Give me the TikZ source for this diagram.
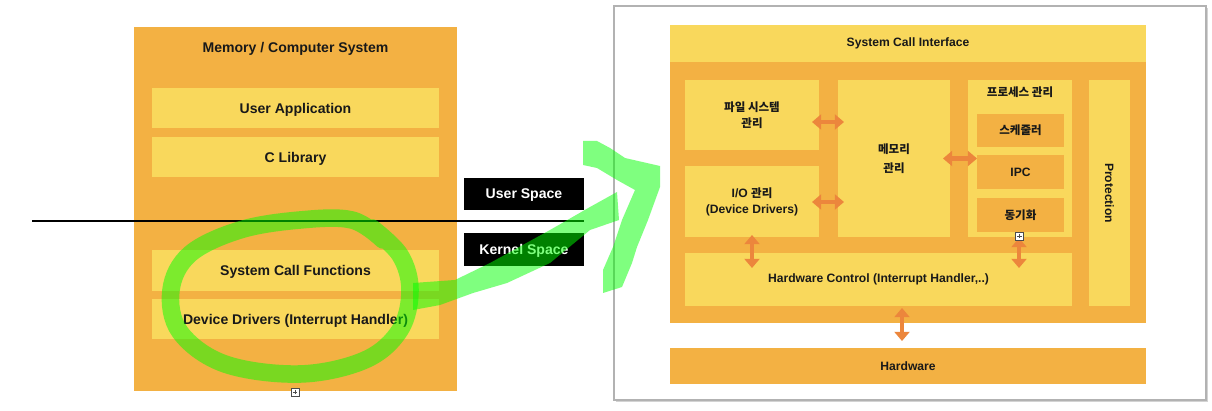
\documentclass[tikz,border=0pt]{standalone}
\usepackage{fontspec}
\setmainfont{Liberation Sans}
\newfontfamily\kr[Scale=0.95]{Noto Sans CJK KR}
\usetikzlibrary{arrows.meta,calc,shadows}
\definecolor{boxorange}{RGB}{243,177,67}
\definecolor{boxyellow}{RGB}{249,216,92}
\definecolor{arrorange}{RGB}{236,134,60}
\definecolor{marker}{RGB}{0,255,0}
\tikzset{
  wh/.style 2 args={minimum width=#1*0.02cm, minimum height=#2*0.02cm},
  plain/.style={inner sep=0pt, outer sep=0pt},
  obox/.style={plain, fill=boxorange},
  ybox/.style={plain, fill=boxyellow},
  ltext/.style={font=\fontsize{8}{10}\selectfont\bfseries, text=black!90, text depth=0pt},
  rtext/.style={font=\fontsize{6.9}{9}\selectfont\bfseries, text=black!90, align=center},
  tag/.style={plain, fill=black, text=white, font=\fontsize{8}{10}\selectfont\bfseries, text depth=0pt},
  dbl/.style={arrorange, line width=2.6pt,
    {Triangle[width=8.5pt,length=5.2pt]}-{Triangle[width=8.5pt,length=5.2pt]}},
  icon/.style={draw=black!70, fill=white, line width=0.4pt, minimum size=4.6pt, inner sep=0pt,
    path picture={\draw[black!70, line width=0.4pt]
      ([yshift=-0.9pt]path picture bounding box.north) -- ([yshift=0.9pt]path picture bounding box.south)
      ([xshift=0.9pt]path picture bounding box.west) -- ([xshift=-0.9pt]path picture bounding box.east);}},
  hand/.style={marker, opacity=0.5}
}

\begin{document}
\begin{tikzpicture}[x=0.02cm, y=-0.02cm]
  \useasboundingbox (0,0) rectangle (1212,411);

  % left: memory layout
  \node[obox, wh={323}{364}] (mcs) at (295.5,209) {};
  \node[ltext] (mcstitle) at (295.5,47) {Memory / Computer System};
  \node[ybox, ltext, wh={287}{40}] (ua) at (295.5,108) {User Application};
  \node[ybox, ltext, wh={287}{40}] (clib) at (295.5,157) {C Library};
  \node[ybox, ltext, wh={287}{41}] (scf) at (295.5,270.5) {System Call Functions};
  \node[ybox, ltext, wh={287}{40}] (dd) at (295.5,319) {Device Drivers (Interrupt Handler)};
  \node[icon] (icoL) at (295,392) {};

  \node[tag, wh={120}{32}] (us) at (524,194) {User Space};
  \node[tag, wh={120}{33}] (ks) at (524,249.5) {Kernel Space};

  % user / kernel border
  \coordinate (cut) at (32,221);
  \draw[black, line width=0.9pt] (cut) -- (cut -| ks.east);

  % right: kernel structure
  \node[plain, draw=black!30, fill=white, line width=0.6pt, wh={592}{394},
    drop shadow={opacity=0.35, shadow xshift=1.2pt, shadow yshift=-1.2pt}] (win) at (910,203) {};
  \node[ybox, rtext, wh={476}{37}] (sci) at (908,43.5) {System Call Interface};
  \node[obox, wh={476}{261}] (kern) at (908,192.5) {};
  \node[ybox, rtext, wh={134}{70}] (fs) at (752,115) {{\kr 파일 시스템}\\{\kr 관리}};
  \node[ybox, rtext, wh={134}{71}] (io) at (752,201.5) {I/O {\kr 관리}\\(Device Drivers)};
  \node[ybox, rtext, wh={112}{157}] (mem) at (894,158.5) {{\kr 메모리}\\[1.5pt]{\kr 관리}};
  \node[ybox, wh={104}{157}] (proc) at (1020,158.5) {};
  \node[rtext] (proclbl) at (1020,92) {\kr 프로세스 관리};
  \node[obox, rtext, wh={87}{33}] (sched) at (1020.5,130.5) {\kr 스케줄러};
  \node[obox, rtext, wh={87}{34}] (ipc) at (1020.5,172) {IPC};
  \node[obox, rtext, wh={87}{34}] (sync) at (1020.5,215) {\kr 동기화};
  \node[ybox, rtext, wh={41}{226}] (prot) at (1109.5,193) {};
  \node[rtext, rotate=-90] (protlbl) at (prot) {Protection};
  \node[ybox, rtext, wh={387}{53}] (hwc) at (878.5,279.5) {Hardware Control (Interrupt Handler,..)};
  \node[obox, rtext, wh={476}{36}] (hw) at (908,366) {Hardware};

  % arrows
  \draw[dbl] ($(fs.east)+(-7,7)$) -- ($(fs.east -| mem.west)+(6,7)$);
  \draw[dbl] ($(io.east)+(-7,0.5)$) -- ($(io.east -| mem.west)+(6,0.5)$);
  \draw[dbl] ($(mem.east)+(-7,0)$) -- ($(mem.east -| sync.west)+(0,0)$);
  \draw[dbl] ($(io.south)+(0,-2)$) -- ($(io.south |- hwc.north)+(0,15)$);
  \draw[dbl] ($(proc.south)+(-1,1)$) -- ($(proc.south |- hwc.north)+(-1,15)$);
  \draw[dbl] ($(kern.south)+(-6,-15)$) -- ($(kern.south |- hw.north)+(-6,-7)$);
  \node[icon] (icoR) at (1019.5,236) {};

  % green marker strokes
  \draw[hand, line width=10pt, line cap=round, line join=round] plot[smooth, tension=0.6] coordinates {
    (372,228) (400,255) (410,290) (400,330) (365,360) (300,374) (225,364) (180,332)
    (171,290) (190,254) (240,230) (300,220) (352,220) (383,240)};
  \fill[hand] (413,283) -- (455,280) -- (490,263) -- (550,230) -- (590,207) -- (617,192)
    -- (619,220) -- (590,230) -- (550,263) -- (507,283) -- (473,293) -- (440,305) -- (413,310) -- cycle;
  \fill[hand] (583,141) -- (597,141) -- (610,148) -- (625,158) -- (660,166) -- (660,187)
    -- (648,220) -- (637,247) -- (632,263) -- (622,287) -- (603,293) -- (603,270) -- (613,247)
    -- (622,220) -- (635,190) -- (617,180) -- (597,168) -- (583,165) -- cycle;
\end{tikzpicture}
\end{document}
